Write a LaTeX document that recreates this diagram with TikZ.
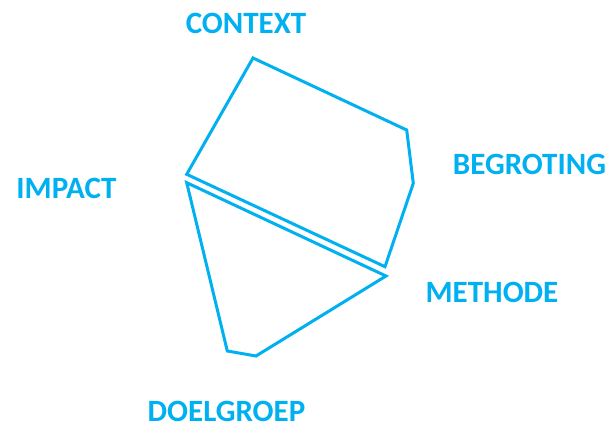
\documentclass[tikz,border=0pt]{standalone}
\usepackage{fontspec}
\setmainfont{Carlito}
\definecolor{officeblue}{HTML}{00B0F0}
\begin{document}
\begin{tikzpicture}[x=1pt,y=-1pt,
  lbl/.style={text=officeblue,font=\bfseries\fontsize{31}{33}\selectfont,inner sep=0pt,text depth=0pt,anchor=base},
  outline/.style={draw=officeblue,line width=3pt,line join=miter}]
\useasboundingbox (0,0) rectangle (610,428);
\draw[outline] (253,58) -- (406.7,130) -- (413.3,183.3) -- (385,266.7) -- (186.7,174.3) -- cycle;
\draw[outline] (186.7,182.7) -- (386,276) -- (256,356) -- (227.3,351) -- cycle;
\node[lbl] (context) at (246,34) {CONTEXT};
\node[lbl] (impact) at (66.5,198) {IMPACT};
\node[lbl] (begroting) at (529.5,174) {BEGROTING};
\node[lbl] (methode) at (492,302) {METHODE};
\node[lbl] (doelgroep) at (226.5,421) {DOELGROEP};
\end{tikzpicture}
\end{document}
